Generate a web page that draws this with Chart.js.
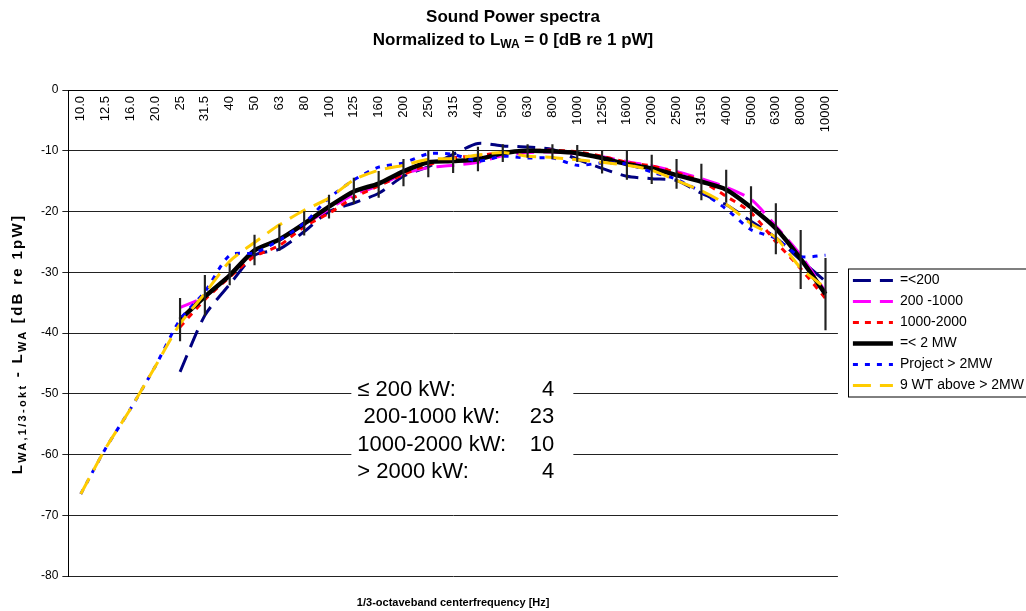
<!DOCTYPE html>
<html lang="en">
<head>
<meta charset="UTF-8">
<title>Sound Power spectra</title>
<script src="https://cdn.jsdelivr.net/npm/chart.js"></script>
<style>
  html, body { margin: 0; padding: 0; background: #fff; }
  #wrap { width: 1026px; height: 611px; position: relative; }
</style>
</head>
<body>
<div id="wrap"><canvas id="chart"></canvas></div>
<script>
const FONT = 'Arial, "Liberation Sans", sans-serif';

// 1/3-octave band centre frequencies
const freqLabels = ['10.0', '12.5', '16.0', '20.0', '25', '31.5', '40', '50', '63', '80', '100', '125', '160', '200', '250',
  '315', '400', '500', '630', '800', '1000', '1250', '1600', '2000', '2500', '3150', '4000', '5000', '6300', '8000', '10000'];

// normalized spectra, dB
const le200 = [null, null, null, null, -46.4, -37.1, -32.0, -27.2, -26.2, -23.3, -20.0, -18.6, -17.0, -14.2, -12.6,
  -10.6, -8.8, -9.2, -9.4, -9.8, -11.4, -12.9, -14.2, -14.6, -14.9, -17.0, -18.9, -21.6, -24.3, -28.0, -31.5];
const kw200to1000 = [null, null, null, null, -35.8, -34.0, -30.5, -26.4, -24.6, -22.2, -19.6, -17.2, -15.8, -13.8, -12.8,
  -12.4, -11.9, -10.8, -10.3, -10.2, -10.5, -11.0, -11.8, -12.5, -13.4, -14.6, -16.0, -18.0, -22.4, -27.2, -33.2];
const kw1000to2000 = [null, null, null, null, -39.0, -34.5, -30.8, -27.4, -25.6, -22.5, -20.3, -17.7, -15.8, -13.9, -12.3,
  -11.2, -10.8, -10.3, -10.0, -9.9, -10.2, -10.9, -11.9, -12.5, -13.6, -15.0, -17.5, -20.2, -25.0, -29.4, -34.3];
const le2MW = [null, null, null, null, -37.8, -34.0, -30.5, -26.4, -24.6, -22.0, -19.2, -16.7, -15.4, -13.4, -11.9,
  -11.7, -11.4, -10.4, -10.0, -10.1, -10.4, -11.2, -12.2, -12.9, -14.0, -15.1, -16.4, -19.3, -22.8, -27.8, -33.6];
const project = [-66.5, -59.0, -52.5, -45.5, -37.8, -33.2, -27.2, -26.8, -24.7, -21.9, -17.8, -14.8, -12.7, -12.0, -10.5,
  -10.6, -11.7, -10.9, -11.2, -11.2, -12.4, -12.0, -12.2, -13.5, -14.7, -16.8, -19.6, -23.0, -24.4, -27.4, -27.2];
const wt9 = [-66.5, -59.0, -52.5, -45.5, -38.5, -33.5, -28.2, -25.1, -22.2, -19.8, -17.8, -14.8, -13.2, -12.4, -11.4,
  -11.3, -10.7, -10.3, -10.9, -11.1, -11.5, -11.9, -12.4, -13.2, -14.9, -16.6, -18.8, -22.0, -24.3, -29.3, -32.6];

// spread (min/max) around the =< 2 MW mean
const errLow = [null, null, null, null, -41.3, -37.1, -32.1, -28.8, -26.4, -23.9, -21.1, -18.7, -17.7, -15.8, -14.3,
  -13.6, -13.3, -11.8, -11.1, -11.3, -11.8, -13.7, -14.7, -15.4, -16.2, -18.1, -18.5, -22.6, -27.0, -32.7, -39.5];
const errHigh = [null, null, null, null, -34.3, -30.5, -28.6, -23.9, -22.2, -20.0, -17.3, -14.5, -13.4, -11.4, -10.0,
  -10.0, -9.4, -9.0, -9.0, -9.0, -9.1, -10.0, -10.1, -10.7, -11.4, -12.2, -13.2, -15.9, -18.7, -23.1, -27.7];

const yTicks = [0, -10, -20, -30, -40, -50, -60, -70, -80];

// number of turbines per class (text box)
const classLabels = ['\u2264 200 kW:', ' 200-1000 kW:', '1000-2000 kW:', '> 2000 kW:'];
const classCounts = [4, 23, 10, 4];

const lineDs = (label, data, color, width, dash, order) => ({
  type: 'line', label, data, borderColor: color, backgroundColor: color,
  borderWidth: width, borderDash: dash, pointRadius: 0, tension: 0.25,
  fill: false, order
});

// text with subscripts: parts = [[text, isSub], ...]
function richText(ctx, parts, x, y, size, spacing, subRatio) {
  const subSize = Math.round(size * (subRatio || 0.7));
  ctx.letterSpacing = (spacing || 0) + 'px';
  let total = 0;
  parts.forEach(p => {
    ctx.font = 'bold ' + (p[1] ? subSize : size) + 'px ' + FONT;
    total += ctx.measureText(p[0]).width;
  });
  let cx = x - total / 2;
  ctx.textAlign = 'left';
  ctx.textBaseline = 'middle';
  parts.forEach(p => {
    ctx.font = 'bold ' + (p[1] ? subSize : size) + 'px ' + FONT;
    ctx.fillText(p[0], cx, p[1] ? y + size * 0.3 : y);
    cx += ctx.measureText(p[0]).width;
  });
  ctx.letterSpacing = '0px';
}

const textPlugin = {
  id: 'texts',
  afterUpdate(chart) {
    // small gap between plot area and legend frame
    chart.legend.left += 8;
    chart.legend.right += 8;
  },
  beforeDatasetsDraw(chart) {
    const ctx = chart.ctx;
    const a = chart.chartArea;
    // white text box with class counts
    ctx.save();
    ctx.fillStyle = '#fff';
    ctx.fillRect(a.left + 283, a.top + 278, 222, 119);
    ctx.fillStyle = '#000';
    ctx.font = '22px ' + FONT;
    ctx.textBaseline = 'middle';
    classLabels.forEach((t, i) => {
      const y = a.top + 300 + i * 27.3;
      ctx.textAlign = 'left';
      ctx.fillText(t, a.left + 289, y);
      ctx.textAlign = 'right';
      ctx.fillText(String(classCounts[i]), a.left + 486, y);
    });
    ctx.restore();
  },
  afterDraw(chart) {
    const ctx = chart.ctx;
    const a = chart.chartArea;
    ctx.save();
    ctx.fillStyle = '#000';
    // titles
    richText(ctx, [['Sound Power spectra', false]], 513, 17, 17);
    richText(ctx, [['Normalized to L', false], ['WA', true], [' = 0 [dB re 1 pW]', false]], 513, 40, 17);
    // x axis title
    richText(ctx, [['1/3-octaveband centerfrequency [Hz]', false]], (a.left + a.right) / 2, 603, 11);
    // y axis title (rotated)
    ctx.translate(18, 344);
    ctx.rotate(-Math.PI / 2);
    richText(ctx, [['L', false], ['WA,1/3-okt', true], [' - L', false], ['WA', true], [' [dB re 1pW]', false]], 0, 0, 15, 2.3, 0.75);
    ctx.restore();
    // legend frame
    const lg = chart.legend;
    const boxes = lg.legendHitBoxes;
    if (boxes && boxes.length) {
      const first = boxes[0], last = boxes[boxes.length - 1];
      ctx.save();
      ctx.strokeStyle = '#000';
      ctx.lineWidth = 1;
      ctx.strokeRect(Math.round(lg.left) + 2.5, first.top - 4.5, 200, last.top + last.height - first.top + 9);
      ctx.restore();
    }
  }
};

const chart = new Chart(document.getElementById('chart'), {
  type: 'line',
  data: {
    labels: freqLabels,
    datasets: [
      lineDs('=<200', le200, '#000080', 3, [18, 9], 7),
      lineDs('200 -1000', kw200to1000, '#FF00FF', 3, [18, 9], 6),
      lineDs('1000-2000', kw1000to2000, '#FF0000', 3, [6, 6], 5),
      lineDs('=< 2 MW', le2MW, '#000000', 4.5, [], 4),
      lineDs('Project > 2MW', project, '#0000FF', 3, [5, 7], 3),
      lineDs('9 WT above > 2MW', wt9, '#FFCC00', 3, [18, 9], 2),
      {
        type: 'bar', label: 'range',
        data: freqLabels.map((_, i) => errLow[i] === null ? null : [errLow[i], errHigh[i]]),
        backgroundColor: '#222', barThickness: 1.5, order: 1
      }
    ]
  },
  options: {
    responsive: true,
    maintainAspectRatio: false,
    animation: false,
    layout: { padding: { top: 90, bottom: 35, left: 37, right: 0 } },
    scales: {
      x: {
        type: 'category',
        offset: true,
        position: { y: 0 },
        grid: { display: false, drawTicks: false },
        border: { display: true, color: '#000' },
        ticks: {
          autoSkip: false, minRotation: 90, maxRotation: 90, padding: 6,
          color: '#000', font: { family: FONT, size: 13 }
        }
      },
      y: {
        min: -80, max: 0,
        afterBuildTicks: scale => { scale.ticks = yTicks.map(v => ({ value: v })); },
        grid: { color: '#222', lineWidth: 1, tickLength: 6 },
        border: { display: true, color: '#000' },
        ticks: { padding: 4, color: '#000', font: { family: FONT, size: 12 } }
      }
    },
    plugins: {
      title: { display: false },
      tooltip: { enabled: false },
      legend: {
        position: 'right',
        labels: {
          usePointStyle: true, pointStyle: 'line', pointStyleWidth: 40, boxHeight: 14,
          padding: 7, color: '#000', font: { family: FONT, size: 14 },
          filter: item => item.datasetIndex < 6,
          sort: (a, b) => a.datasetIndex - b.datasetIndex,
          generateLabels: c => Chart.defaults.plugins.legend.labels.generateLabels(c).map(item => {
            const ds = c.data.datasets[item.datasetIndex];
            return Object.assign(item, { lineDash: ds.borderDash || [], lineWidth: ds.borderWidth, strokeStyle: ds.borderColor });
          })
        }
      }
    }
  },
  plugins: [textPlugin]
});
</script>
</body>
</html>
